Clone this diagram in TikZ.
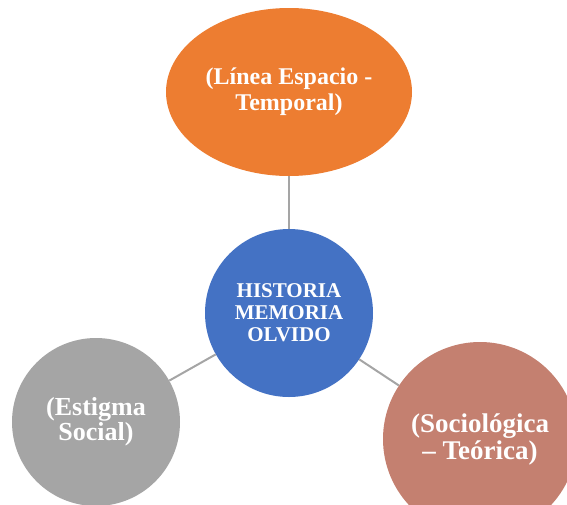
\documentclass[tikz,border=0pt]{standalone}
\usepackage{fontspec}
\setmainfont{Liberation Serif}
\usepackage{xcolor}
\usepackage{tikz}
\usetikzlibrary{shapes,positioning}

\definecolor{tema}{HTML}{4472C4}
\definecolor{espacio}{HTML}{ED7D31}
\definecolor{estigma}{HTML}{A5A5A5}
\definecolor{teoria}{HTML}{C48070}
\definecolor{enlace}{HTML}{A5A5A5}

\begin{document}
\begin{tikzpicture}[
    x=1pt, y=-1pt,
    bubble/.style={circle, fill=#1, text=white, align=center, inner sep=0pt,
        font=\bfseries\fontsize{26}{25}\selectfont},
    link/.style={draw=enlace, line width=2pt}
]
\clip (0,0) rectangle (567,504);
\node[ellipse, fill=espacio, text=white, align=center, minimum width=246pt,
    minimum height=168pt, inner sep=0pt, font=\bfseries\fontsize{24}{26}\selectfont]
    (E) at (289,92) {(Línea Espacio -\\Temporal)};
\node[bubble=tema, minimum size=168pt, font=\bfseries\fontsize{21}{22}\selectfont]
    (H) at (289,313) {HISTORIA\\MEMORIA\\OLVIDO};
\node[bubble=estigma, minimum size=168pt] (S) at (96,422) {(Estigma\\Social)};
\node[bubble=teoria, minimum size=194pt, font=\bfseries\fontsize{27}{27}\selectfont]
    (T) at (480,439) {(Sociológica\\– Teórica)};

\draw[link] (E) -- (H);
\draw[link] (H) -- (S);
\draw[link] (H) -- (T);
\end{tikzpicture}
\end{document}
